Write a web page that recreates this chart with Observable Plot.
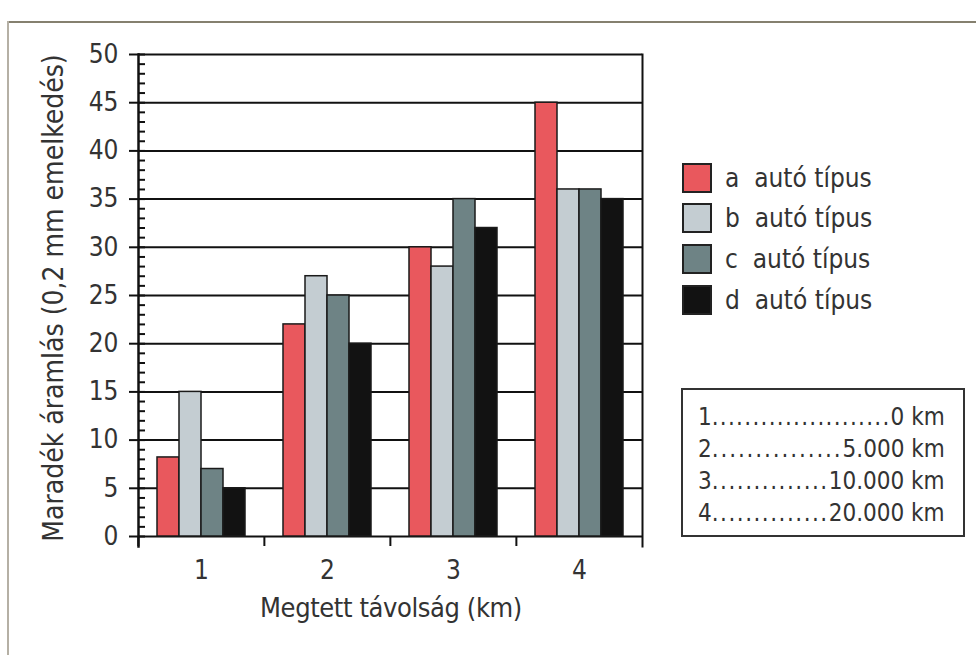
<!DOCTYPE html>
<html>
<head>
<meta charset="utf-8">
<script src="https://cdn.jsdelivr.net/npm/d3@7"></script>
<script src="https://cdn.jsdelivr.net/npm/@observablehq/plot@0.6"></script>
<style>
  html, body { margin: 0; padding: 0; background: #fff; }
  #wrap { position: relative; width: 976px; height: 655px; overflow: hidden; font-family: "DejaVu Sans Condensed", "DejaVu Sans", sans-serif; font-stretch: condensed; color: #333; }
  #wrap svg { position: absolute; left: 0; top: 0; }
  .pframe-top { position: absolute; left: 8px; top: 21px; width: 968px; height: 0; border-top: 2px solid #85806f; }
  .pframe-left { position: absolute; left: 7px; top: 21px; width: 0; height: 640px; border-left: 2px solid #b5b0a5; }
  .ytitle { position: absolute; left: 53px; top: 298px; transform: translate(-50%, -50%) rotate(-90deg); white-space: nowrap; font-size: 28px; }
  .xtitle { position: absolute; left: 391px; top: 607px; transform: translate(-50%, -50%); white-space: nowrap; font-size: 27px; letter-spacing: -0.4px; }
  .leg { position: absolute; left: 682px; height: 30px; display: flex; align-items: center; font-size: 26px; white-space: pre; }
  .leg .sw { width: 30px; height: 30px; box-sizing: border-box; border: 2px solid #222; margin-right: 13px; }
  .kmbox { position: absolute; left: 681px; top: 388px; width: 284px; height: 149px; box-sizing: border-box; border: 2px solid #333; padding: 11px 18px 0 15px; font-size: 24px; }
  .kmrow { display: flex; height: 32px; line-height: 32px; white-space: nowrap; }
  .kmrow span { flex: 0 0 auto; }
  .kmrow .dots { letter-spacing: 1px; }
</style>
</head>
<body>
<div id="wrap">
  <div class="pframe-top"></div>
  <div class="pframe-left"></div>
</div>
<script>
const groups = ["1", "2", "3", "4"];
const types = ["a", "b", "c", "d"];
const typeLabels = ["a  autó típus", "b  autó típus", "c  autó típus", "d  autó típus"];
const colors = ["#e9585d", "#c4cdd2", "#6e8385", "#121212"];
const valuesA = [8.2, 22, 30, 45];
const valuesB = [15, 27, 28, 36];
const valuesC = [7, 25, 35, 36];
const valuesD = [5, 20, 32, 35];
const yTicks = [0, 5, 10, 15, 20, 25, 30, 35, 40, 45, 50];
const minorTicks = d3.range(0, 51);
const kmKeys = ["1", "2", "3", "4"];
const kmDots = ["......................", "...............", "..............", ".............."];
const kmValues = ["0 km", "5.000 km", "10.000 km", "20.000 km"];
const yTitle = "Maradék áramlás (0,2 mm emelkedés)";
const xTitle = "Megtett távolság (km)";

const series = [valuesA, valuesB, valuesC, valuesD];
const data = [];
groups.forEach((g, gi) => types.forEach((t, ti) => data.push({group: g, type: t, value: series[ti][gi]})));

const font = '"DejaVu Sans Condensed", "DejaVu Sans", sans-serif';

const chart = Plot.plot({
  width: 976,
  height: 655,
  marginLeft: 137,
  marginRight: 334,
  marginTop: 54,
  marginBottom: 119,
  style: {fontFamily: font, fontSize: "25px", color: "#333", background: "transparent", overflow: "visible", fontStretch: "condensed"},
  fx: {domain: groups, padding: 0, axis: null},
  x: {domain: types, paddingInner: 0, paddingOuter: 0.74, axis: null},
  y: {domain: [0, 50], axis: null},
  color: {domain: types, range: colors},
  marks: [
    Plot.ruleY(yTicks, {stroke: "#111", strokeWidth: 2}),
    Plot.barY(data, {fx: "group", x: "type", y: "value", fill: "type", stroke: "#1a1a1a", strokeWidth: 1.5}),
    Plot.axisY({ticks: yTicks, tickSize: 9, tickPadding: 11, stroke: "#111", strokeWidth: 2, fill: "#333", label: null, fontSize: 26}),
    Plot.axisY({ticks: minorTicks, tickSize: 7, dx: 7, tickFormat: () => "", stroke: "#111", strokeWidth: 2, label: null}),
    Plot.axisFx({anchor: "bottom", tickSize: 0, tickPadding: 24, label: null, fill: "#333", fontSize: 26}),
    Plot.axisFx({anchor: "bottom", tickSize: 10, dx: -63.125, tickFormat: () => "", label: null, stroke: "#111", strokeWidth: 2}),
    Plot.frame({anchor: "left", facet: "super", stroke: "#111", strokeWidth: 2.5, insetBottom: -10}),
    Plot.frame({anchor: "right", facet: "super", stroke: "#111", strokeWidth: 2, insetBottom: -10})
  ]
});

const wrap = document.getElementById("wrap");
wrap.appendChild(chart);

const yt = document.createElement("div");
yt.className = "ytitle"; yt.textContent = yTitle; wrap.appendChild(yt);
const xt = document.createElement("div");
xt.className = "xtitle"; xt.textContent = xTitle; wrap.appendChild(xt);

const legTops = [163, 203, 244, 285];
types.forEach((t, i) => {
  const row = document.createElement("div");
  row.className = "leg";
  row.style.top = legTops[i] + "px";
  const sw = document.createElement("div");
  sw.className = "sw"; sw.style.background = colors[i];
  const lab = document.createElement("span");
  lab.textContent = typeLabels[i];
  row.appendChild(sw); row.appendChild(lab);
  wrap.appendChild(row);
});

const box = document.createElement("div");
box.className = "kmbox";
const rows = [];
kmKeys.forEach((k, i) => {
  const row = document.createElement("div");
  row.className = "kmrow";
  const a = document.createElement("span"); a.textContent = k;
  const d = document.createElement("span"); d.className = "dots"; d.textContent = kmDots[i];
  const b = document.createElement("span"); b.textContent = kmValues[i];
  row.appendChild(a); row.appendChild(d); row.appendChild(b);
  box.appendChild(row);
  rows.push({row, a, d, b, n: kmDots[i].length});
});
wrap.appendChild(box);
// stretch the dot leaders so each row fills the box width exactly
rows.forEach(({row, a, d, b, n}) => {
  const free = row.clientWidth - a.offsetWidth - d.offsetWidth - b.offsetWidth;
  d.style.letterSpacing = (1 + free / n) + "px";
});
</script>
</body>
</html>
